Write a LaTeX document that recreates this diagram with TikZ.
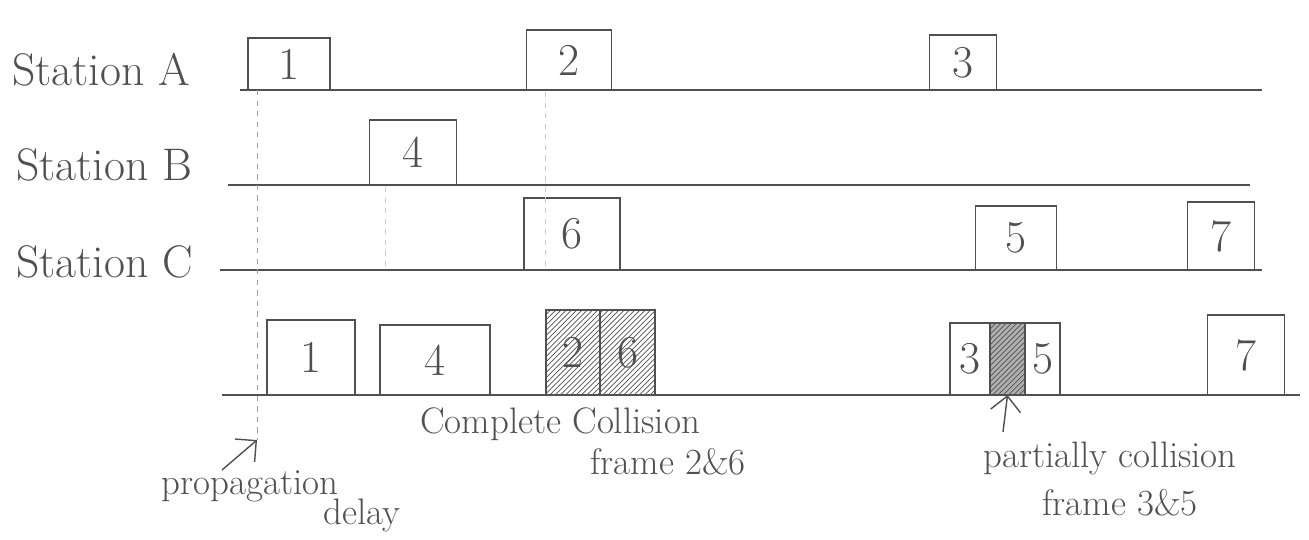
\documentclass[tikz,border=0pt]{standalone}
\usepackage{tikz}
\usetikzlibrary{arrows.meta,positioning,patterns}
\definecolor{pencil}{RGB}{80,80,80}

\begin{document}
\begin{tikzpicture}[
  x=0.02cm, y=-0.02cm,
  lbl/.style={anchor=west, text=pencil, font=\fontsize{26}{30}\selectfont},
  frm/.style={draw=pencil, thick, anchor=south, inner sep=0pt, outer sep=0pt, text=pencil, font=\fontsize{26}{30}\selectfont},
  hit/.style={frm, pattern=north east lines, pattern color=pencil},
  note/.style={text=pencil, font=\fontsize{21}{23}\selectfont, align=center, inner sep=1pt},
  wire/.style={draw=pencil, thick},
  guide/.style={draw=pencil!55, dashed},
  arr/.style={-{Straight Barb[length=3mm]}, thick, draw=pencil}
]
\useasboundingbox (0,0) rectangle (1309,539);

% station labels
\node[lbl] (sa) at (6,70) {Station A};
\node[lbl] (sb) at (10,165) {Station B};
\node[lbl] (sc) at (10,262) {Station C};

% time lines
\draw[wire] (240,90) -- (1262,90);
\draw[wire] (228,185) -- (1250,185);
\draw[wire] (220,270) -- (1262,270);
\draw[wire] (222,395) -- (1300,395);

% station A
\node[frm, minimum width=1.64cm, minimum height=1.04cm] (a1) at (289,90) {1};
\node[frm, minimum width=1.7cm, minimum height=1.2cm] (a2) at (569,90) {2};
\node[frm, minimum width=1.34cm, minimum height=1.1cm] (a3) at (963,90) {3};

% station B
\node[frm, minimum width=1.74cm, minimum height=1.3cm] (b4) at (413,185) {4};

% station C
\node[frm, minimum width=1.92cm, minimum height=1.44cm] (c6) at (572,270) {6};
\node[frm, minimum width=1.62cm, minimum height=1.28cm] (c5) at (1016,270) {5};
\node[frm, minimum width=1.34cm, minimum height=1.36cm] (c7) at (1221,270) {7};

% channel
\node[frm, minimum width=1.76cm, minimum height=1.5cm] (r1) at (311,395) {1};
\node[frm, minimum width=2.2cm, minimum height=1.4cm] (r4) at (435,395) {4};
\node[hit, minimum width=1.08cm, minimum height=1.7cm] (r2) at (573,395) {2};
\node[hit, minimum width=1.1cm, minimum height=1.7cm, right=0pt of r2] (r6) {6};
\node[frm, minimum width=0.8cm, minimum height=1.44cm] (r3) at (970,395) {3};
\node[hit, preaction={fill=pencil!45}, minimum width=0.7cm, minimum height=1.44cm, right=0pt of r3] (rx) {};
\node[frm, minimum width=0.7cm, minimum height=1.44cm, right=0pt of rx] (r5) {5};
\node[frm, minimum width=1.54cm, minimum height=1.6cm] (r7) at (1246,395) {7};

% guides
\coordinate (ga) at (257,90);
\coordinate (gd) at (257,440);
\draw[guide] (ga) -- (gd);
\draw[guide, draw=pencil!30] (545,92) -- (545,270);
\draw[guide, draw=pencil!30] (385,187) -- (385,270);

% notes
\coordinate (pd) at (222,470);
\draw[arr] (pd) -- (gd);
\node[note] (prop) at (250,486) {propagation};
\node[note] (dly) at (362,515) {delay};

\node[note] (cc1) at (560,424) {Complete Collision};
\node[note] (cc2) at (668,462) {frame 2\&6};

\coordinate (pc) at (1003,432);
\draw[arr] (pc) -- (rx.south);
\node[note] (pp1) at (1110,458) {partially collision};
\node[note] (pp2) at (1120,503) {frame 3\&5};
\end{tikzpicture}
\end{document}
